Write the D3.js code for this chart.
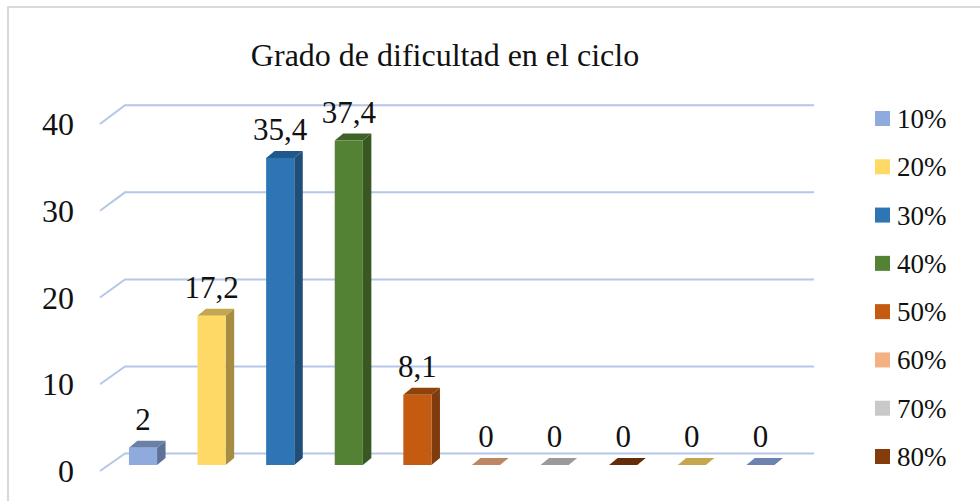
<!DOCTYPE html>
<html>
<head>
<meta charset="utf-8">
<script src="https://cdn.jsdelivr.net/npm/d3@7"></script>
<style>
  html, body { margin: 0; padding: 0; background: #fff; }
  text { font-family: "Liberation Serif", serif; fill: #111; }
</style>
</head>
<body>
<script>
// series, each one has a single value
const categories = ['10%', '20%', '30%', '40%', '50%', '60%', '70%', '80%', '90%', '100%'];
const values = [2, 17.2, 35.4, 37.4, 8.1, 0, 0, 0, 0, 0];
const labels = ['2', '17,2', '35,4', '37,4', '8,1', '0', '0', '0', '0', '0'];
const frontColors = ['#8faadc', '#ffd966', '#2e75b6', '#548235', '#c55a11', '#f4b183', '#c9c9c9', '#843c0c', '#bf9000', '#2f5597'];
const topColors = ['#6b80a6', '#c4a64f', '#20588c', '#3f6228', '#8e430d', '#bd8763', '#9a9a9a', '#642c08', '#c4a64f', '#6d82ad'];
const sideColors = ['#5f7196', '#a68d42', '#1f4e79', '#385723', '#7f3b0b', '#bd8763', '#9a9a9a', '#642c08', '#c4a64f', '#6d82ad'];
const ticks = [0, 10, 20, 30, 40];
const legendCount = 8; // the last two legend rows are cut off in the original

const width = 980, height = 501;
const dx = 8.5, dy = -7;   // depth of the bars

const svg = d3.select('body').append('svg')
    .attr('width', width)
    .attr('height', height)
    .style('display', 'block');

// outer frame, only top and left show in the crop
svg.append('path')
    .attr('d', 'M8,501V7H980')
    .attr('fill', 'none')
    .attr('stroke', '#d9d9d9')
    .attr('stroke-width', 2);

svg.append('text')
    .attr('x', 445).attr('y', 66)
    .attr('text-anchor', 'middle')
    .attr('font-size', 32)
    .text('Grado de dificultad en el ciclo');

// front edge of the floor and the back wall have slightly different spans
const y = d3.scaleLinear().domain([0, 40]).range([471, 124]);
const yBack = d3.scaleLinear().domain([0, 40]).range([453.5, 105.3]);
const barY = v => y(v) - 6;

const x = d3.scaleBand()
    .domain(categories)
    .range([108.7, 794.7])
    .paddingInner(0.59)
    .paddingOuter(0.295);

// gridlines, with the short diagonal on the side wall
svg.append('g').selectAll('path')
    .data(ticks)
    .join('path')
    .attr('fill', 'none')
    .attr('stroke', '#b4c7e7')
    .attr('stroke-width', 2)
    .attr('d', d => `M100,${y(d)}L125,${yBack(d)}H814`);

// y axis, only the labels are visible
const yAxis = svg.append('g')
    .attr('transform', 'translate(74,0)')
    .call(d3.axisLeft(y).tickValues(ticks).tickSize(0).tickPadding(0));
yAxis.select('.domain').remove();
yAxis.selectAll('text')
    .attr('font-size', 32)
    .attr('font-family', '"Liberation Serif", serif')
    .attr('dy', '0.33em')
    .attr('dx', '0');

const data = categories.map((c, i) => ({ cat: c, value: values[i], label: labels[i], i }));

const bars = svg.append('g').selectAll('g')
    .data(data)
    .join('g');

bars.append('path')
    .attr('fill', d => sideColors[d.i])
    .attr('d', d => {
        const r = x(d.cat) + x.bandwidth();
        return `M${r},${barY(d.value)}l${dx},${dy}V${barY(0) + dy}l${-dx},${-dy}Z`;
    });

bars.append('path')
    .attr('fill', d => topColors[d.i])
    .attr('d', d => `M${x(d.cat)},${barY(d.value)}l${dx},${dy}h${x.bandwidth()}l${-dx},${-dy}Z`);

bars.append('rect')
    .attr('x', d => x(d.cat))
    .attr('y', d => barY(d.value))
    .attr('width', x.bandwidth())
    .attr('height', d => barY(0) - barY(d.value))
    .attr('fill', d => frontColors[d.i]);

bars.append('text')
    .attr('x', d => x(d.cat) + x.bandwidth() / 2)
    .attr('y', d => barY(d.value) - 18)
    .attr('text-anchor', 'middle')
    .attr('font-size', 31)
    .text(d => d.label);

// legend
const legendY = d3.scalePoint()
    .domain(categories.slice(0, legendCount))
    .range([118.5, 456.5]);

const legend = svg.append('g').selectAll('g')
    .data(data.slice(0, legendCount))
    .join('g')
    .attr('transform', d => `translate(875,${legendY(d.cat)})`);

legend.append('rect')
    .attr('y', -7.5)
    .attr('width', 15)
    .attr('height', 15)
    .attr('fill', d => frontColors[d.i]);

legend.append('text')
    .attr('x', 22)
    .attr('y', 9.5)
    .attr('font-size', 27)
    .text(d => d.cat);
</script>
</body>
</html>
